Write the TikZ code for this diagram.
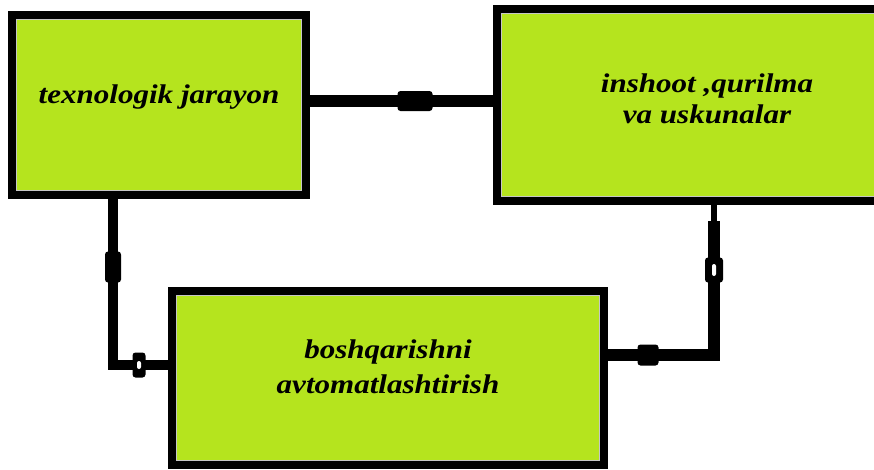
\documentclass[tikz,border=0pt]{standalone}
\usepackage{fontspec}
\setmainfont{Liberation Serif}
\usetikzlibrary{positioning}
\definecolor{yashil}{RGB}{181,228,30}
\newcommand{\keng}[1]{\scalebox{1.15}[1]{#1}}

\begin{document}
\begin{tikzpicture}[x=1pt,y=-1pt,
    blok/.style={draw=black,line width=8pt,fill=yashil,inner sep=0pt},
    ichki/.style={draw=white!55!gray,line width=1pt},
    matn/.style={font=\fontsize{27}{31}\selectfont\bfseries\itshape,align=center,inner sep=0pt},
    truba/.style={draw=black,line width=12pt},
    mufta/.style={fill=black,rounded corners=3pt,inner sep=0pt},
    teshik/.style={fill=white,rounded corners=2pt,inner sep=0pt}]
      \useasboundingbox (0,0) rectangle (874,469);
      % bloklar
      \node[blok,minimum width=294pt,minimum height=180pt] (texn) at (159,105) {};
      \node[blok,minimum width=385pt,minimum height=192pt] (insh) at (689.5,105) {};
      \node[blok,minimum width=432pt,minimum height=174pt] (bosh) at (388,378) {};
      \draw[ichki] ([shift={(8.5,8.5)}]texn.north west) rectangle ([shift={(-8.5,-8.5)}]texn.south east);
      \draw[ichki] ([shift={(8.5,8.5)}]insh.north west) rectangle ([shift={(-8.5,-8.5)}]insh.south east);
      \draw[ichki] ([shift={(8.5,8.5)}]bosh.north west) rectangle ([shift={(-8.5,-8.5)}]bosh.south east);
      % matnlar
      \node[matn] (texnT) at (159,97) {\keng{texnologik jarayon}};
      \node[matn] (inshT) at (707,99) {\keng{inshoot ,qurilma}\\\keng{va uskunalar}};
      \node[matn] (boshT) at (388,367) {\keng{boshqarishni}\\[4pt]\keng{avtomatlashtirish}};
      % ulanishlar
      \coordinate (u1) at (415,101);
      \coordinate (b1) at (113,365);
      \coordinate (b2) at (714,355);
      \coordinate (q2) at (714,221);
      \draw[truba] (u1 -| texn.east) -- (u1 -| insh.west);
      \draw[truba,line width=10pt] (b1 |- texn.south) -- (b1) -- (b1 -| bosh.west);
      \draw[black,line width=6pt] (b2 |- insh.south) -- (q2);
      \draw[truba] (q2) -- (b2) -- (b2 -| bosh.east);
      % muftalar
      \node[mufta,minimum width=35pt,minimum height=20pt] (m1) at (u1) {};
      \node[mufta,minimum width=16pt,minimum height=31pt] (m2) at (113,267) {};
      \node[mufta,minimum width=13pt,minimum height=25pt] (m3) at (139,365) {};
      \node[teshik,minimum width=4pt,minimum height=8pt] (t3) at (m3) {};
      \node[mufta,minimum width=18pt,minimum height=25pt] (m4) at (714,270) {};
      \node[teshik,minimum width=4pt,minimum height=12pt] (t4) at (m4) {};
      \node[mufta,minimum width=21pt,minimum height=21pt] (m5) at (648,355) {};
\end{tikzpicture}
\end{document}
